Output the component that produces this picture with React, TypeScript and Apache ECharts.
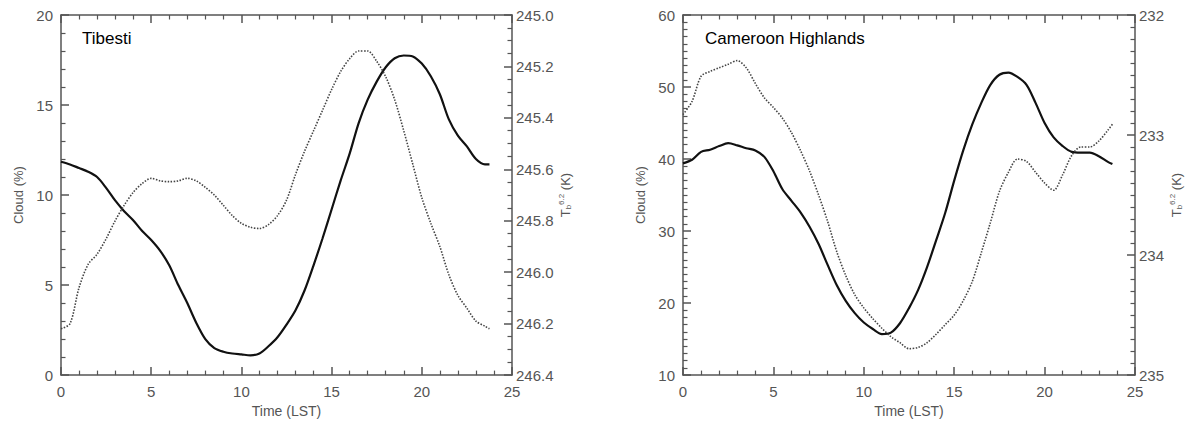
import React, { useEffect, useRef } from "react";
import * as echarts from "echarts";

const hours = [
  0, 0.5, 1, 1.5, 2, 2.5, 3, 3.5, 4, 4.5, 5, 5.5, 6, 6.5, 7, 7.5, 8, 8.5, 9, 9.5,
  10, 10.5, 11, 11.5, 12, 12.5, 13, 13.5, 14, 14.5, 15, 15.5, 16, 16.5, 17, 17.5,
  18, 18.5, 19, 19.5, 20, 20.5, 21, 21.5, 22, 22.5, 23, 23.5, 23.75,
];

const tibestiCloud = [
  11.85, 11.7, 11.5, 11.3, 11.0, 10.4, 9.7, 9.1, 8.6, 8.0, 7.5, 6.9, 6.1, 5.0, 4.0, 2.9,
  2.0, 1.5, 1.3, 1.2, 1.15, 1.1, 1.2, 1.6, 2.1, 2.8, 3.6, 4.7, 6.1, 7.6, 9.2, 10.8,
  12.3, 14.0, 15.3, 16.3, 17.1, 17.6, 17.75, 17.7, 17.3, 16.6, 15.6, 14.2, 13.3, 12.7,
  12.0, 11.7, 11.7,
];

const tibestiTb = [
  246.22, 246.2, 246.06, 245.97, 245.93, 245.87, 245.8, 245.74, 245.69, 245.655, 245.635,
  245.645, 245.648, 245.645, 245.635, 245.645, 245.67, 245.7, 245.74, 245.78, 245.81,
  245.825, 245.83, 245.815, 245.78, 245.72, 245.62, 245.53, 245.45, 245.37, 245.29,
  245.22, 245.17, 245.14, 245.14, 245.18, 245.24, 245.33, 245.45, 245.58, 245.71,
  245.81, 245.9, 246.01, 246.09, 246.14, 246.19, 246.21, 246.22,
];

const cameroonCloud = [
  39.4, 39.9, 41.0, 41.3, 41.8, 42.2, 41.9, 41.5, 41.2, 40.3, 38.3, 35.8, 34.2, 32.6,
  30.6, 28.2, 25.3, 22.5, 20.3, 18.6, 17.3, 16.4, 15.7, 15.9, 17.2, 19.3, 21.8, 25.0,
  28.7, 32.5, 37.0, 41.2, 44.8, 47.8, 50.3, 51.7, 52.0, 51.4, 50.3, 47.8, 45.0, 43.0,
  41.8, 41.0, 40.9, 40.9, 40.4, 39.6, 39.3,
];

const cameroonTb = [
  232.83, 232.72, 232.51, 232.47, 232.44, 232.41, 232.38, 232.44, 232.57, 232.69, 232.77,
  232.86, 232.98, 233.13, 233.3, 233.5, 233.72, 233.97, 234.17, 234.33, 234.44, 234.53,
  234.61, 234.68, 234.73, 234.78, 234.77, 234.73, 234.66, 234.58, 234.5, 234.38, 234.22,
  233.98, 233.73, 233.47, 233.31, 233.2, 233.22, 233.31, 233.4, 233.46, 233.33, 233.17,
  233.1, 233.1, 233.05, 232.96, 232.91,
];

const panelTitles = ["Tibesti", "Cameroon Highlands"];
const xTitle = "Time (LST)";
const yLeftTitle = "Cloud (%)";

const pair = (vals: number[]) => hours.map((h, i) => [h, vals[i]]);

const AXIS_COLOR = "#555";
const LABEL_COLOR = "#555";
const FONT = "'Liberation Sans', 'DejaVu Sans', sans-serif";

export default function App() {
  const ref = useRef<HTMLDivElement>(null);
  useEffect(() => {
    if (!ref.current) return;
    const chart = echarts.init(ref.current, null, { renderer: "svg" });

    const grids = [
      { left: 61, top: 15, width: 451, height: 363 },
      { left: 683, top: 15, width: 452, height: 363 },
    ];

    const axisLine = () => ({ show: true, onZero: false, lineStyle: { color: AXIS_COLOR, width: 1.5 } });
    const axisTick = () => ({ show: true, inside: true, length: 8, lineStyle: { color: AXIS_COLOR, width: 1.5 } });
    const minorTick = (n: number) => ({ show: true, splitNumber: n, length: 4.5, lineStyle: { color: AXIS_COLOR, width: 1.2 } });
    const axisLabel = () => ({ color: LABEL_COLOR, fontSize: 15, fontFamily: FONT, margin: 8 });

    const xAxes: any[] = [];
    [0, 1].forEach((g) => {
      xAxes.push({
        type: "value", gridIndex: g, min: 0, max: 25, interval: 5, position: "bottom",
        axisLine: axisLine(), axisTick: axisTick(), minorTick: minorTick(5), splitLine: { show: false },
        axisLabel: { ...axisLabel(), margin: 9 },
        name: xTitle, nameLocation: "middle", nameGap: 23,
        nameTextStyle: { color: LABEL_COLOR, fontSize: 14, fontFamily: FONT },
      });
      xAxes.push({
        type: "value", gridIndex: g, min: 0, max: 25, interval: 5, position: "top",
        axisLine: axisLine(), axisTick: axisTick(), minorTick: minorTick(5), splitLine: { show: false },
        axisLabel: { show: false },
      });
    });

    const tbName = "{t|T}{sub|b}{sup|6.2}{t| (K)}";
    const tbRich = {
      t: { fontSize: 13, color: LABEL_COLOR, fontFamily: FONT },
      sub: { fontSize: 8, color: LABEL_COLOR, fontFamily: FONT, padding: [6, 0, 0, 0] },
      sup: { fontSize: 8, color: LABEL_COLOR, fontFamily: FONT, padding: [0, 0, 8, 0] },
    };
    const nameStyle = { color: LABEL_COLOR, fontSize: 13, fontFamily: FONT };

    const yAxes: any[] = [
      {
        type: "value", gridIndex: 0, min: 0, max: 20, interval: 5, position: "left",
        axisLine: axisLine(), axisTick: axisTick(), minorTick: minorTick(5), splitLine: { show: false }, axisLabel: axisLabel(),
        name: yLeftTitle, nameLocation: "middle", nameGap: 36, nameRotate: 90, nameTextStyle: nameStyle,
      },
      {
        type: "value", gridIndex: 0, min: 245.0, max: 246.4, interval: 0.2, inverse: true, position: "right",
        axisLine: axisLine(), axisTick: axisTick(), minorTick: minorTick(4), splitLine: { show: false },
        axisLabel: { ...axisLabel(), margin: 4, formatter: (v: number) => v.toFixed(1) },
        name: tbName, nameLocation: "middle", nameGap: 33, nameRotate: 90,
        nameTextStyle: { ...nameStyle, rich: tbRich },
      },
      {
        type: "value", gridIndex: 1, min: 10, max: 60, interval: 10, position: "left",
        axisLine: axisLine(), axisTick: axisTick(), minorTick: minorTick(10), splitLine: { show: false }, axisLabel: axisLabel(),
        name: yLeftTitle, nameLocation: "middle", nameGap: 36, nameRotate: 90, nameTextStyle: nameStyle,
      },
      {
        type: "value", gridIndex: 1, min: 232, max: 235, interval: 1, inverse: true, position: "right",
        axisLine: axisLine(), axisTick: axisTick(), minorTick: minorTick(10), splitLine: { show: false },
        axisLabel: { ...axisLabel(), margin: 4 },
        name: tbName, nameLocation: "middle", nameGap: 33, nameRotate: 90,
        nameTextStyle: { ...nameStyle, rich: tbRich },
      },
    ];

    const solid = { color: "#111", width: 2.2, type: "solid" as const };
    const dotted = { color: "#444", width: 1.6, type: [1.5, 1.5] as any };

    chart.setOption({
      animation: false,
      backgroundColor: "#fff",
      grid: grids,
      xAxis: xAxes,
      yAxis: yAxes,
      series: [
        { type: "line", xAxisIndex: 0, yAxisIndex: 0, data: pair(tibestiCloud), smooth: 0.3, showSymbol: false, lineStyle: solid },
        { type: "line", xAxisIndex: 0, yAxisIndex: 1, data: pair(tibestiTb), smooth: 0.3, showSymbol: false, lineStyle: dotted },
        { type: "line", xAxisIndex: 2, yAxisIndex: 2, data: pair(cameroonCloud), smooth: 0.3, showSymbol: false, lineStyle: solid },
        { type: "line", xAxisIndex: 2, yAxisIndex: 3, data: pair(cameroonTb), smooth: 0.3, showSymbol: false, lineStyle: dotted },
      ],
      graphic: [
        { type: "text", left: 82, top: 30, style: { text: panelTitles[0], fontSize: 17, fontFamily: FONT, fill: "#000" } },
        { type: "text", left: 705, top: 30, style: { text: panelTitles[1], fontSize: 17, fontFamily: FONT, fill: "#000" } },
      ],
    });
    return () => chart.dispose();
  }, []);
  return (
    <div
      ref={ref}
      style={{ position: "absolute", left: 0, top: 0, width: 1191, height: 423 }}
    />
  );
}
